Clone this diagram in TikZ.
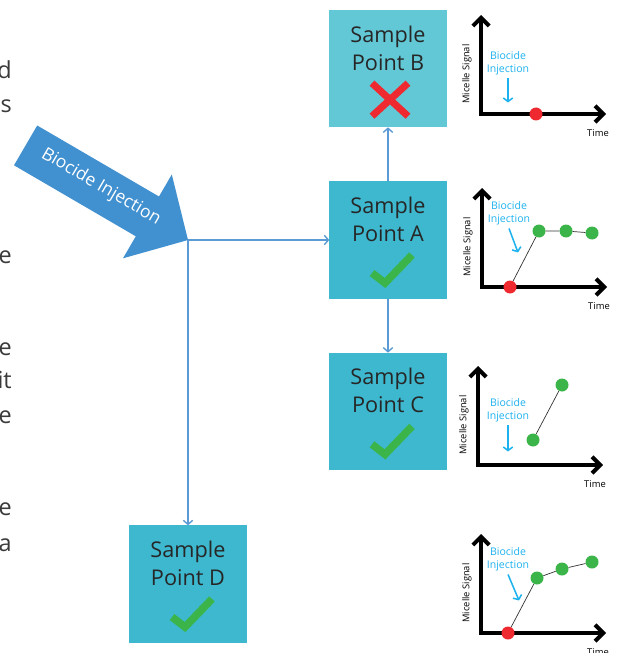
\documentclass[tikz,border=0pt]{standalone}
\usepackage{fontspec}
\setmainfont{Open Sans}
\usetikzlibrary{arrows.meta, positioning}
\definecolor{boxTeal}{HTML}{3EB8CF}
\definecolor{boxLight}{HTML}{63C8D6}
\definecolor{injBlue}{HTML}{4190D0}
\definecolor{lineBlue}{HTML}{5B9BD5}
\definecolor{okGreen}{HTML}{3BB54A}
\definecolor{badRed}{HTML}{EE2A30}
\definecolor{cyanText}{HTML}{1DB1EE}
\definecolor{bodyGray}{HTML}{3A3A3A}

\begin{document}
\begin{tikzpicture}[
    x=0.03cm, y=-0.03cm,
    node distance=1.62cm,
    ptbox/.style={rectangle, fill=boxTeal, minimum width=3.52cm, minimum height=3.52cm,
                  inner sep=0pt, outer sep=0pt},
    pttext/.style={align=center, inner sep=0pt, font=\fontsize{18.5}{24}\selectfont, text=black!85},
    link/.style={draw=lineBlue, line width=1.2pt, ->, >={Straight Barb[length=3.5pt,width=8pt]}},
    okmark/.style={draw=okGreen, line width=6.5pt},
    badmark/.style={draw=badRed, line width=6pt},
    axis/.style={line width=3.4pt, <->, >={Straight Barb[length=7pt,width=14pt]}},
    axlbl/.style={font=\fontsize{8}{9}\selectfont, inner sep=0pt},
    injlbl/.style={font=\fontsize{9}{11}\selectfont, text=cyanText, align=center, inner sep=0pt},
    injarrow/.style={draw=cyanText, line width=1.3pt, ->, >={Straight Barb[length=3pt,width=8pt]}},
    gdot/.style={circle, fill=okGreen, minimum size=0.39cm, inner sep=0pt},
    rdot/.style={circle, fill=badRed, minimum size=0.39cm, inner sep=0pt},
    trend/.style={draw=black!80, line width=0.6pt},
    frag/.style={anchor=base east, inner sep=0pt, font=\fontsize{20}{24}\selectfont, text=bodyGray},
  ]
    \useasboundingbox (0,0) rectangle (617,653);

    \foreach \t/\yb in {d/79, s/113, e/263, e/355, it/388, e/423, e/515, a/551}
      \node[frag] (frag\yb) at (12,\yb) {\t};

    \fill[injBlue] (37.2,125.5) -- (159,196.5) -- (171.8,174.5) -- (188,240)
      -- (123,258.3) -- (135.8,236.3) -- (14,165.3) -- cycle;
    \coordinate (tip) at (188,240);
    \node[text=white, font=\fontsize{15}{17}\selectfont, rotate=-30.2] (injtxt) at (101,187) {Biocide Injection};

    \node[ptbox] (ptA) at (388,240) {};
    \node[ptbox, fill=boxLight, above=of ptA] (ptB) {};
    \node[ptbox, below=of ptA] (ptC) {};
    \node[ptbox] (ptD) at (188,584) {};

    \node[pttext, below=0.46cm of ptB.north] (txB) {Sample\\Point B};
    \node[pttext, below=0.46cm of ptA.north] (txA) {Sample\\Point A};
    \node[pttext, below=0.46cm of ptC.north] (txC) {Sample\\Point C};
    \node[pttext, below=0.46cm of ptD.north] (txD) {Sample\\Point D};

    \draw[link] (tip) -- (ptA.west);
    \draw[link] (tip) -- (ptD.north);
    \draw[link] (ptA) -- (ptB);
    \draw[link] (ptA) -- (ptC);

    \foreach \p in {ptA, ptC, ptD}
      \draw[okmark] ([shift={(-16,33)}]\p.center) -- ([shift={(-3,43)}]\p.center)
        -- ([shift={(24,15)}]\p.center);
    \draw[badmark] ([shift={(-16,14.5)}]ptB.center) -- ([shift={(20,47.5)}]ptB.center);
    \draw[badmark] ([shift={(-16,47.5)}]ptB.center) -- ([shift={(20,14.5)}]ptB.center);

    \foreach \n/\ox/\oy in {B/481/114, A/482/287, C/478/465, D/481/633}{
      \draw[axis] (\ox,\oy-99) -- (\ox,\oy) -- (\ox+125,\oy);
      \node[axlbl] (tm\n) at (\ox+117,\oy+19) {Time};
      \node[axlbl, rotate=90] (ms\n) at (\ox-14,\oy-40) {Micelle Signal};
    }

    \node[injlbl] (bjB) at (508,63) {Biocide\\Injection};
    \draw[injarrow] ([yshift=-3pt]bjB.south) -- ++(0,24);
    \node[rdot] (b0) at (536,114) {};

    \node[injlbl] (bjA) at (509,213) {Biocide\\Injection};
    \draw[injarrow] ([yshift=-3pt]bjA.south) -- ++(9,24);
    \node[rdot] (a0) at (510,287) {};
    \node[gdot] (a1) at (539,231) {};
    \node[gdot] (a2) at (566,231) {};
    \node[gdot] (a3) at (592,233) {};
    \draw[trend] (a0) -- (a1) -- (a2) -- (a3);

    \node[injlbl] (bjC) at (508,410) {Biocide\\Injection};
    \draw[injarrow] ([yshift=-3pt]bjC.south) -- ++(0,26);
    \node[gdot] (c1) at (533,440) {};
    \node[gdot] (c2) at (562,385) {};
    \draw[trend] (c1) -- (c2);

    \node[injlbl] (bjD) at (508,559) {Biocide\\Injection};
    \draw[injarrow] ([yshift=-3pt]bjD.south) -- ++(11,26);
    \node[rdot] (d0) at (508,633) {};
    \node[gdot] (d1) at (537,578) {};
    \node[gdot] (d2) at (562,569) {};
    \node[gdot] (d3) at (592,562) {};
    \draw[trend] (d0) -- (d1) -- (d2) -- (d3);
  \end{tikzpicture}
\end{document}
